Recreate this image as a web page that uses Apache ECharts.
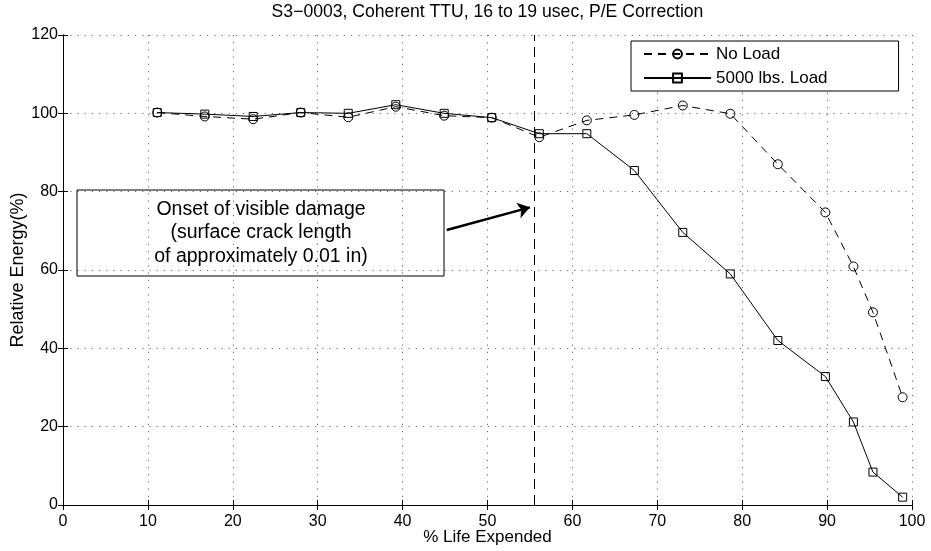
<!DOCTYPE html>
<html>
<head>
<meta charset="utf-8">
<script src="https://cdn.jsdelivr.net/npm/echarts@6/dist/echarts.min.js"></script>
<style>
  html, body { margin: 0; padding: 0; background: #fff; }
  #chart { width: 931px; height: 551px; }
</style>
</head>
<body>
<div id="chart"></div>
<script>
// % life expended (shared by both runs)
const lifePct = [11.1, 16.7, 22.4, 28.0, 33.6, 39.2, 44.9, 50.5, 56.1, 61.7, 67.3, 73.0, 78.6, 84.2, 89.8, 93.1, 95.4, 98.9];
// relative energy (%)
const noLoad = [100.2, 99.2, 98.5, 100.2, 99.0, 101.7, 99.4, 98.9, 93.9, 98.2, 99.6, 102.0, 99.9, 87.0, 74.7, 60.9, 49.2, 27.5];
const load5000 = [100.2, 99.8, 99.2, 100.2, 100.0, 102.2, 100.0, 98.9, 94.8, 94.8, 85.4, 69.6, 59.0, 42.0, 32.8, 21.2, 8.4, 2.0];

const onsetX = 55.5;
const arrowFrom = [45.2, 70.2];
const arrowTo = [55.0, 76.0];

const font = '"Liberation Sans", Arial, Helvetica, sans-serif';
const gridDots = { color: "#666", width: 1, type: [1.2, 6] };

const chart = echarts.init(document.getElementById("chart"));

const pairs = (ys) => lifePct.map((x, i) => [x, ys[i]]);

chart.setOption({
  animation: false,
  textStyle: { fontFamily: font, color: "#000" },
  grid: { left: 63, right: 19, top: 35, bottom: 46, outerBoundsMode: "none", containLabel: false },
  graphic: [
    {
      type: "text",
      x: 487.5,
      y: 12,
      style: {
        text: "S3\u22120003, Coherent TTU, 16 to 19 usec, P/E Correction",
        font: "17.6px " + font,
        fill: "#000",
        align: "center",
        verticalAlign: "middle",
      },
    },
    {
      type: "rect",
      shape: { x: 77, y: 190, width: 367, height: 86 },
      style: { fill: "none", stroke: "#000", lineWidth: 1 },
      z: 10,
    },
    {
      type: "text",
      x: 261,
      y: 233,
      style: {
        text: "Onset of visible damage\n(surface crack length\nof approximately 0.01 in)",
        font: "19.5px " + font,
        fill: "#000",
        align: "center",
        verticalAlign: "middle",
        lineHeight: 23.5,
      },
      z: 10,
    },
  ],
  legend: {
    data: ["No Load", "5000 lbs. Load"],
    orient: "vertical",
    left: 631,
    top: 41,
    itemWidth: 67,
    itemHeight: 11,
    itemGap: 7,
    padding: [4.5, 71, 4.5, 12],
    borderColor: "#000",
    borderWidth: 1,
    backgroundColor: "#fff",
    textStyle: { fontSize: 17, color: "#000", fontFamily: font },
  },
  xAxis: [
    {
      type: "value",
      min: 0,
      max: 100,
      interval: 10,
      name: "% Life Expended",
      nameLocation: "middle",
      nameGap: 24,
      nameMoveOverlap: false,
      nameTextStyle: { fontSize: 17, color: "#000" },
      axisLine: { lineStyle: { color: "#000", width: 1 } },
      axisTick: { inside: true, length: 5, lineStyle: { color: "#000" } },
      axisLabel: { fontSize: 16, color: "#000", margin: 9 },
      splitLine: { show: true, lineStyle: gridDots },
    },
    {
      type: "value",
      position: "top",
      min: 0,
      max: 100,
      interval: 10,
      axisLine: { lineStyle: { color: "#000", width: 1 } },
      axisTick: { inside: true, length: 5, lineStyle: { color: "#000" } },
      axisLabel: { show: false },
      splitLine: { show: false },
    },
  ],
  yAxis: [
    {
      type: "value",
      min: 0,
      max: 120,
      interval: 20,
      name: "Relative Energy(%)",
      nameLocation: "middle",
      nameGap: 36,
      nameMoveOverlap: false,
      nameTextStyle: { fontSize: 18, color: "#000" },
      axisLine: { show: true, lineStyle: { color: "#000", width: 1 } },
      axisTick: { show: true, inside: true, length: 5, lineStyle: { color: "#000" } },
      axisLabel: { fontSize: 16, color: "#000", margin: 5 },
      splitLine: { show: true, lineStyle: gridDots },
    },
    {
      type: "value",
      position: "right",
      min: 0,
      max: 120,
      interval: 20,
      axisLine: { show: true, lineStyle: { color: "#000", width: 1 } },
      axisTick: { show: true, inside: true, length: 5, lineStyle: { color: "#000" } },
      axisLabel: { show: false },
      splitLine: { show: false },
    },
  ],
  series: [
    {
      name: "No Load",
      type: "line",
      data: pairs(noLoad),
      symbol: "circle",
      symbolSize: 9,
      itemStyle: { color: "rgba(0,0,0,0)", borderColor: "#000", borderWidth: 1 },
      lineStyle: { color: "#000", width: 1, type: [8, 6] },
      z: 3,
    },
    {
      name: "5000 lbs. Load",
      type: "line",
      data: pairs(load5000),
      symbol: "rect",
      symbolSize: 8,
      itemStyle: { color: "rgba(0,0,0,0)", borderColor: "#000", borderWidth: 1 },
      lineStyle: { color: "#000", width: 1, type: "solid" },
      z: 4,
      markLine: {
        silent: true,
        symbol: "none",
        label: { show: false },
        data: [
          { xAxis: onsetX, lineStyle: { color: "#000", width: 1, type: [10, 6] } },
          [
            { coord: arrowFrom, symbol: "none" },
            { coord: arrowTo, symbol: "arrow", symbolSize: 12 },
          ],
        ],
        lineStyle: { color: "#000", width: 2.5, type: "solid" },
      },
    },
  ],
});
</script>
</body>
</html>
